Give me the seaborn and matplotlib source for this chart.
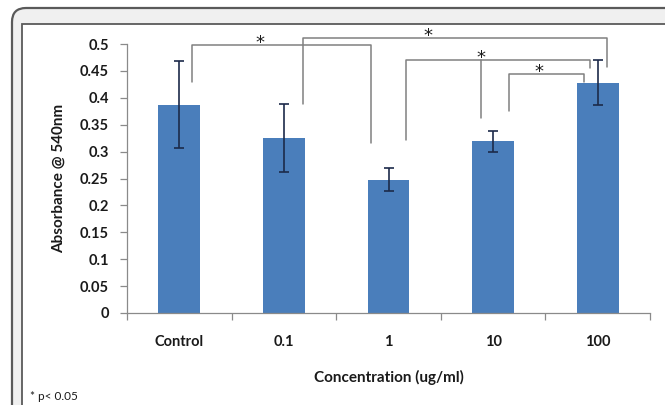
import matplotlib
matplotlib.use("Agg")
import matplotlib.pyplot as plt
import seaborn as sns
import pandas as pd
import numpy as np
from matplotlib.patches import FancyBboxPatch, Rectangle
from matplotlib.transforms import IdentityTransform

# ---- data ----
categories = ["Control", "0.1", "1", "10", "100"]
absorbance = [0.387, 0.325, 0.248, 0.319, 0.428]
errors = [0.081, 0.063, 0.022, 0.020, 0.042]
yticks = [0, 0.05, 0.1, 0.15, 0.2, 0.25, 0.3, 0.35, 0.4, 0.45, 0.5]
ytick_labels = ["0", "0.05", "0.1", "0.15", "0.2", "0.25", "0.3", "0.35", "0.4", "0.45", "0.5"]
# significance brackets: (x_left, x_right, y_top, y_left_end, y_right_end, x_star)
brackets = [
    (0.125, 1.83, 0.498, 0.429, 0.316, 0.77),
    (1.18, 4.09, 0.511, 0.388, 0.457, 2.38),
    (2.17, 3.93, 0.470, 0.322, 0.455, 2.88),
    (3.15, 3.87, 0.444, 0.375, 0.429, 3.44),
]
# extra vertical drop from bracket 3 towards the "10" bar: (x, y_top, y_bottom)
drops = [(2.88, 0.470, 0.362)]

df = pd.DataFrame({"Concentration": categories, "Absorbance": absorbance})

sns.set_theme(style="white")
plt.rcParams["font.family"] = ["Lato", "DejaVu Sans"]

W, H = 665, 405
fig = plt.figure(figsize=(W / 100, H / 100), dpi=100)
fig.patch.set_facecolor("white")

# frame decoration
outer = FancyBboxPatch((12, -60), 720, H - 8 + 60, boxstyle="round,pad=0,rounding_size=14",
                       transform=IdentityTransform(), facecolor="#f0f0f0",
                       edgecolor="#5a5a5a", linewidth=1.6, zorder=-5)
inner = Rectangle((22, -60), 720, H - 24 + 60, transform=IdentityTransform(),
                  facecolor="white", edgecolor="#5a5a5a", linewidth=1.3, zorder=-4)
fig.add_artist(outer)
fig.add_artist(inner)

L, R, T, B = 127, 650, 44, 313
ax = fig.add_axes([L / W, 1 - B / H, (R - L) / W, (B - T) / H])
ax.set_facecolor("none")

sns.barplot(data=df, x="Concentration", y="Absorbance", color="#4a7ebb",
            saturation=1, width=0.4, errorbar=None, ax=ax, zorder=2)
for p in ax.patches:
    p.set_edgecolor("none")

centers = [p.get_x() + p.get_width() / 2 for p in ax.patches]
ax.errorbar(centers, absorbance, yerr=errors, fmt="none", ecolor="#1c2a4a",
            elinewidth=1.2, capsize=3.5, capthick=1.2, zorder=3)

ax.set_xlim(-0.5, 4.5)
ax.set_ylim(0, 0.5)
ax.set_yticks(yticks)
ax.set_yticklabels(ytick_labels)

# x ticks: labels at centres, tick marks at category boundaries
ax.set_xticks(range(len(categories)))
ax.set_xticklabels(categories)
ax.set_xticks(np.arange(-0.5, len(categories), 1.0), minor=True)
ax.tick_params(axis="x", which="major", length=0, pad=16, labelsize=10.5,
               labelcolor="#1a1a1a")
ax.tick_params(axis="x", which="minor", length=5, width=0.9, color="#8a8a8a",
               direction="out", bottom=True)
ax.tick_params(axis="y", length=5, width=0.9, color="#8a8a8a", direction="out",
               left=True, pad=8, labelsize=10.5, labelcolor="#1a1a1a")
for lab in ax.get_xticklabels() + ax.get_yticklabels():
    lab.set_fontweight("bold")

for s in ["top", "right"]:
    ax.spines[s].set_visible(False)
for s in ["left", "bottom"]:
    ax.spines[s].set_color("#8a8a8a")
    ax.spines[s].set_linewidth(0.9)

ax.set_xlabel("Concentration (ug/ml)", fontsize=11, fontweight="bold", color="#1a1a1a")
ax.set_ylabel("Absorbance @ 540nm", fontsize=11, fontweight="bold", color="#1a1a1a")
ax.xaxis.set_label_coords(0.5, -0.21)
ax.yaxis.set_label_coords(-0.118, 0.5)

# significance brackets
bc = "#808080"
for xl, xr, yt, yl, yr, xs in brackets:
    ax.plot([xl, xl, xr, xr], [yl, yt, yt, yr], color=bc, lw=1.1, clip_on=False, zorder=4)
    ax.annotate("*", (xs, yt), xytext=(0, -2), textcoords="offset points",
                ha="center", va="baseline", fontsize=13, color="#1a1a1a",
                family="DejaVu Sans", annotation_clip=False)
for x, y1, y2 in drops:
    ax.plot([x, x], [y1, y2], color=bc, lw=1.1, clip_on=False, zorder=4)

fig.text(30 / W, 1 - 397 / H, "* p< 0.05", fontsize=8.5, ha="left", va="center",
         color="#1a1a1a")

fig.savefig("out.png", dpi=100)
